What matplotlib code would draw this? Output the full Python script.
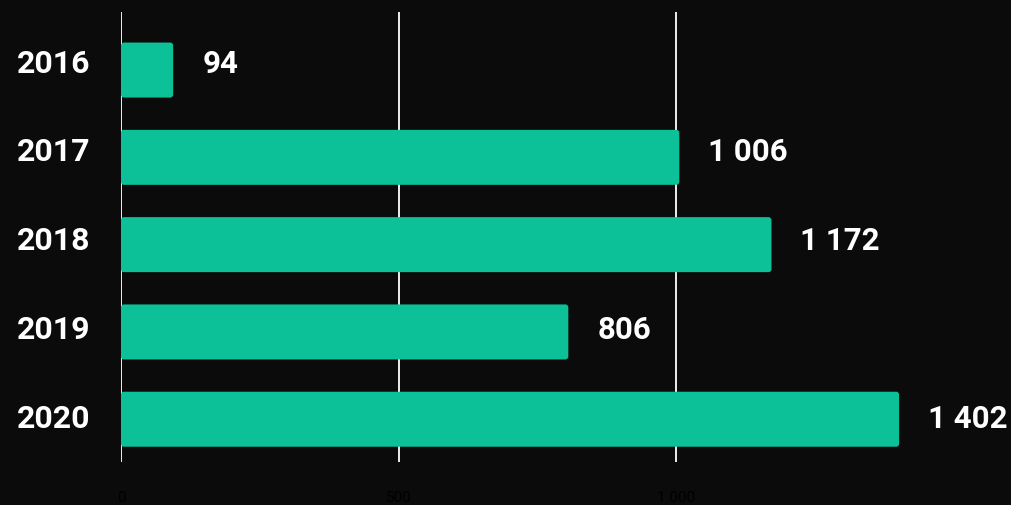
import matplotlib.pyplot as plt
from matplotlib.patches import FancyBboxPatch
from matplotlib.transforms import ScaledTranslation

years = ['2016', '2017', '2018', '2019', '2020']
values = [94, 1006, 1172, 806, 1402]
xticks = [0, 500, 1000]

bg = '#0b0b0b'
bar_color = '#0cc198'

plt.rcParams['font.family'] = ['Roboto', 'DejaVu Sans']

fig = plt.figure(figsize=(10.11, 5.05), dpi=100, facecolor=bg)
# axes from x=121px to right edge, y from 12px to 462px
ax = fig.add_axes([121 / 1011, (505 - 462) / 505, 1 - 121 / 1011, 450 / 505])
ax.set_facecolor(bg)

pos = list(range(len(years)))
bars = ax.barh(pos, values, height=0.63, color=bar_color)

ax.set_xlim(0, (1011 - 121) / 0.555)
ax.set_ylim(4.49, -0.665)

# replace bars with slightly rounded ones
px_x = 1 / 0.555
px_y = 1 / 87.25
for b in bars:
    x0, y0 = b.get_xy()
    w, h = b.get_width(), b.get_height()
    rp = FancyBboxPatch((x0, y0), w, h,
                        boxstyle=f'round,pad=0,rounding_size={3 * px_x}',
                        mutation_aspect=px_y / px_x,
                        facecolor=bar_color, edgecolor='none', zorder=2)
    ax.add_patch(rp)
    b.remove()


# labels sit on a slightly wider band than the bars (top ones a bit higher)
def shift(i):
    return 6.5 - 1.6 * i


for i, v in enumerate(values):
    label = f'{v:,}'.replace(',', ' ')
    ax.text(v + 29 * px_x, i - shift(i) * px_y, label, va='center', ha='left',
            color='white', fontsize=22.5, fontweight='bold')

ax.set_yticks(pos)
ax.set_yticklabels(years, fontsize=23, fontweight='bold', color='white',
                   va='center')
ax.tick_params(axis='y', length=0, pad=22)
for i, lab in enumerate(ax.get_yticklabels()):
    up = ScaledTranslation(0, shift(i) / 100, fig.dpi_scale_trans)
    lab.set_transform(lab.get_transform() + up)

ax.set_xticks(xticks)
ax.set_xticklabels([f'{t:,}'.replace(',', ' ') for t in xticks],
                   fontsize=11, color='black')
ax.tick_params(axis='x', length=0, pad=21)

ax.grid(axis='x', color='white', linewidth=1.3, zorder=1)
ax.set_axisbelow(True)
for s in ax.spines.values():
    s.set_visible(False)

fig.savefig('out.png', dpi=100, facecolor=bg)
